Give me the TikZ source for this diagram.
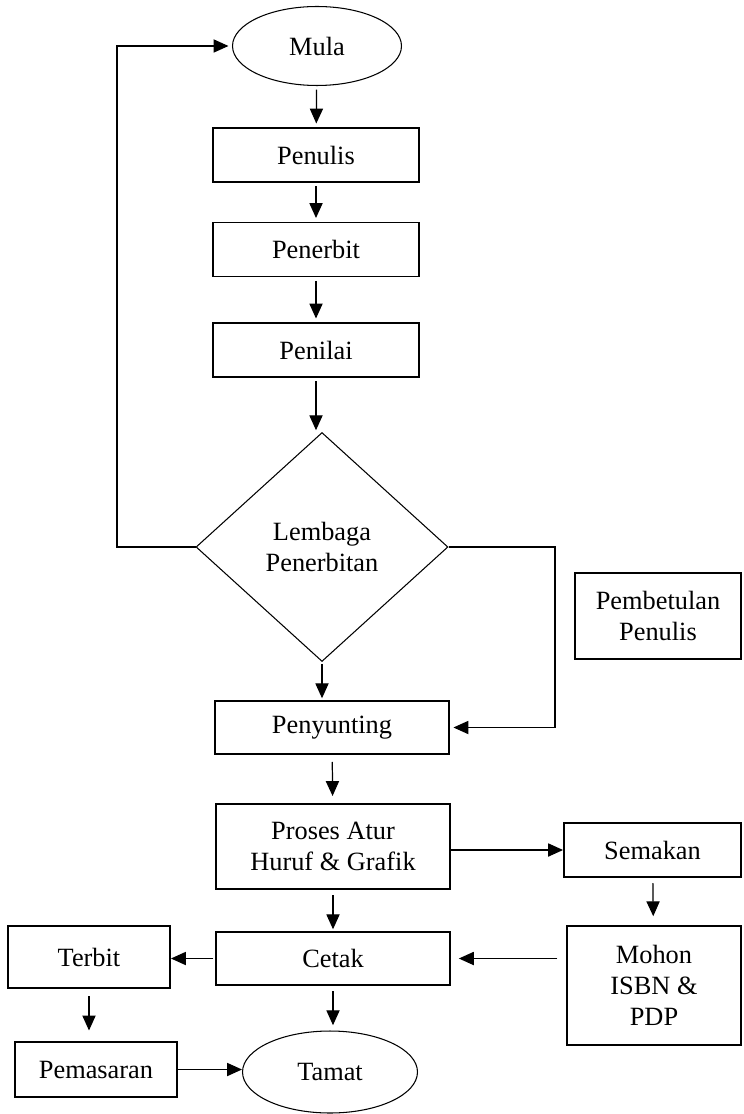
\documentclass[tikz,border=0pt]{standalone}
\usepackage{fontspec}
\setmainfont{Liberation Serif}
\usetikzlibrary{shapes.geometric,arrows.meta}

\tikzset{
  box/.style={draw,line width=1.1pt,inner sep=0pt,align=center},
  oval/.style={draw,ellipse,line width=0.6pt,inner sep=0pt},
  decide/.style={draw,diamond,line width=0.6pt,inner sep=0pt,align=center},
  arr/.style={line width=0.7pt,-{Triangle[length=8.5pt,width=7.5pt]}},
  line/.style={line width=0.7pt}
}

\begin{document}
\begin{tikzpicture}[x=0.02cm,y=-0.02cm,font=\fontsize{15}{17.5}\selectfont]
        \useasboundingbox (0,0) rectangle (743,1114);
        % main column
        \node[oval,minimum width=3.38cm,minimum height=1.58cm] (mula) at (317,46) {Mula};
        \node[box,minimum width=4.12cm,minimum height=1.08cm] (penulis) at (316,155) {Penulis};
        \node[box,minimum width=4.12cm,minimum height=1.08cm] (penerbit) at (316,249.5) {Penerbit};
        \node[box,minimum width=4.12cm,minimum height=1.08cm] (penilai) at (316,350) {Penilai};
        \node[decide,minimum width=5.04cm,minimum height=4.58cm] (lembaga) at (322,547) {Lembaga\\Penerbitan};
        \node[box,minimum width=3.32cm,minimum height=1.72cm] (pembetulan) at (658,616) {Pembetulan\\Penulis};
        \node[box,minimum width=4.68cm,minimum height=1.06cm] (penyunting) at (332,727.5) {Penyunting};
        \node[box,minimum width=4.68cm,minimum height=1.70cm] (proses) at (333,846.5) {Proses Atur\\Huruf \& Grafik};
        \node[box,minimum width=3.54cm,minimum height=1.08cm] (semakan) at (652.5,850) {Semakan};
        \node[box,minimum width=3.48cm,minimum height=2.38cm] (mohon) at (654,985.5) {Mohon\\ISBN \&\\PDP};
        \node[box,minimum width=4.68cm,minimum height=1.06cm] (cetak) at (333,958.5) {Cetak};
        \node[box,minimum width=3.24cm,minimum height=1.24cm] (terbit) at (89,957) {Terbit};
        \node[box,minimum width=3.24cm,minimum height=1.10cm] (pemasaran) at (96,1069.5) {Pemasaran};
        \node[oval,minimum width=3.5cm,minimum height=1.64cm] (tamat) at (330,1072) {Tamat};
        % loop corners
        \coordinate (loopL) at (117,547);
        \coordinate (loopR) at (555,547);
        % arrows
        \draw[arr,shorten <=2pt,shorten >=2pt] (mula) -- (penulis);
        \draw[arr,shorten <=2pt,shorten >=2pt] (penulis) -- (penerbit);
        \draw[arr,shorten <=2pt,shorten >=2pt] (penerbit) -- (penilai);
        \draw[arr,shorten <=2pt,shorten >=1pt] (penilai.south) -- (penilai.south |- lembaga.north);
        \draw[arr,shorten >=2pt] (lembaga.west) -- (loopL) |- (mula.west);
        \draw[arr,shorten >=2pt] (lembaga.east) -- (loopR) |- (penyunting.east);
        \draw[arr,shorten <=1pt,shorten >=1pt] (lembaga.south) -- (lembaga.south |- penyunting.north);
        \draw[arr,shorten <=4pt,shorten >=4pt] (penyunting) -- (proses);
        \draw[arr] (semakan.west -| proses.east) -- (semakan.west);
        \draw[arr,shorten <=3pt,shorten >=5pt] (semakan) -- (mohon);
        \draw[arr,shorten <=3pt,shorten >=1pt] (proses) -- (cetak);
        \draw[arr,shorten <=5pt,shorten >=4.5pt] (cetak.east -| mohon.west) -- (cetak.east);
        \draw[arr,shorten <=1pt] (cetak.west) -- (cetak.west -| terbit.east);
        \draw[arr,shorten <=4pt,shorten >=6pt] (terbit.south) -- (terbit.south |- pemasaran.north);
        \draw[arr,shorten <=3pt,shorten >=3pt] (cetak.south) -- (cetak.south |- tamat.north);
        \draw[arr] (pemasaran.east) -- (pemasaran.east -| tamat.west);
    \end{tikzpicture}
\end{document}
